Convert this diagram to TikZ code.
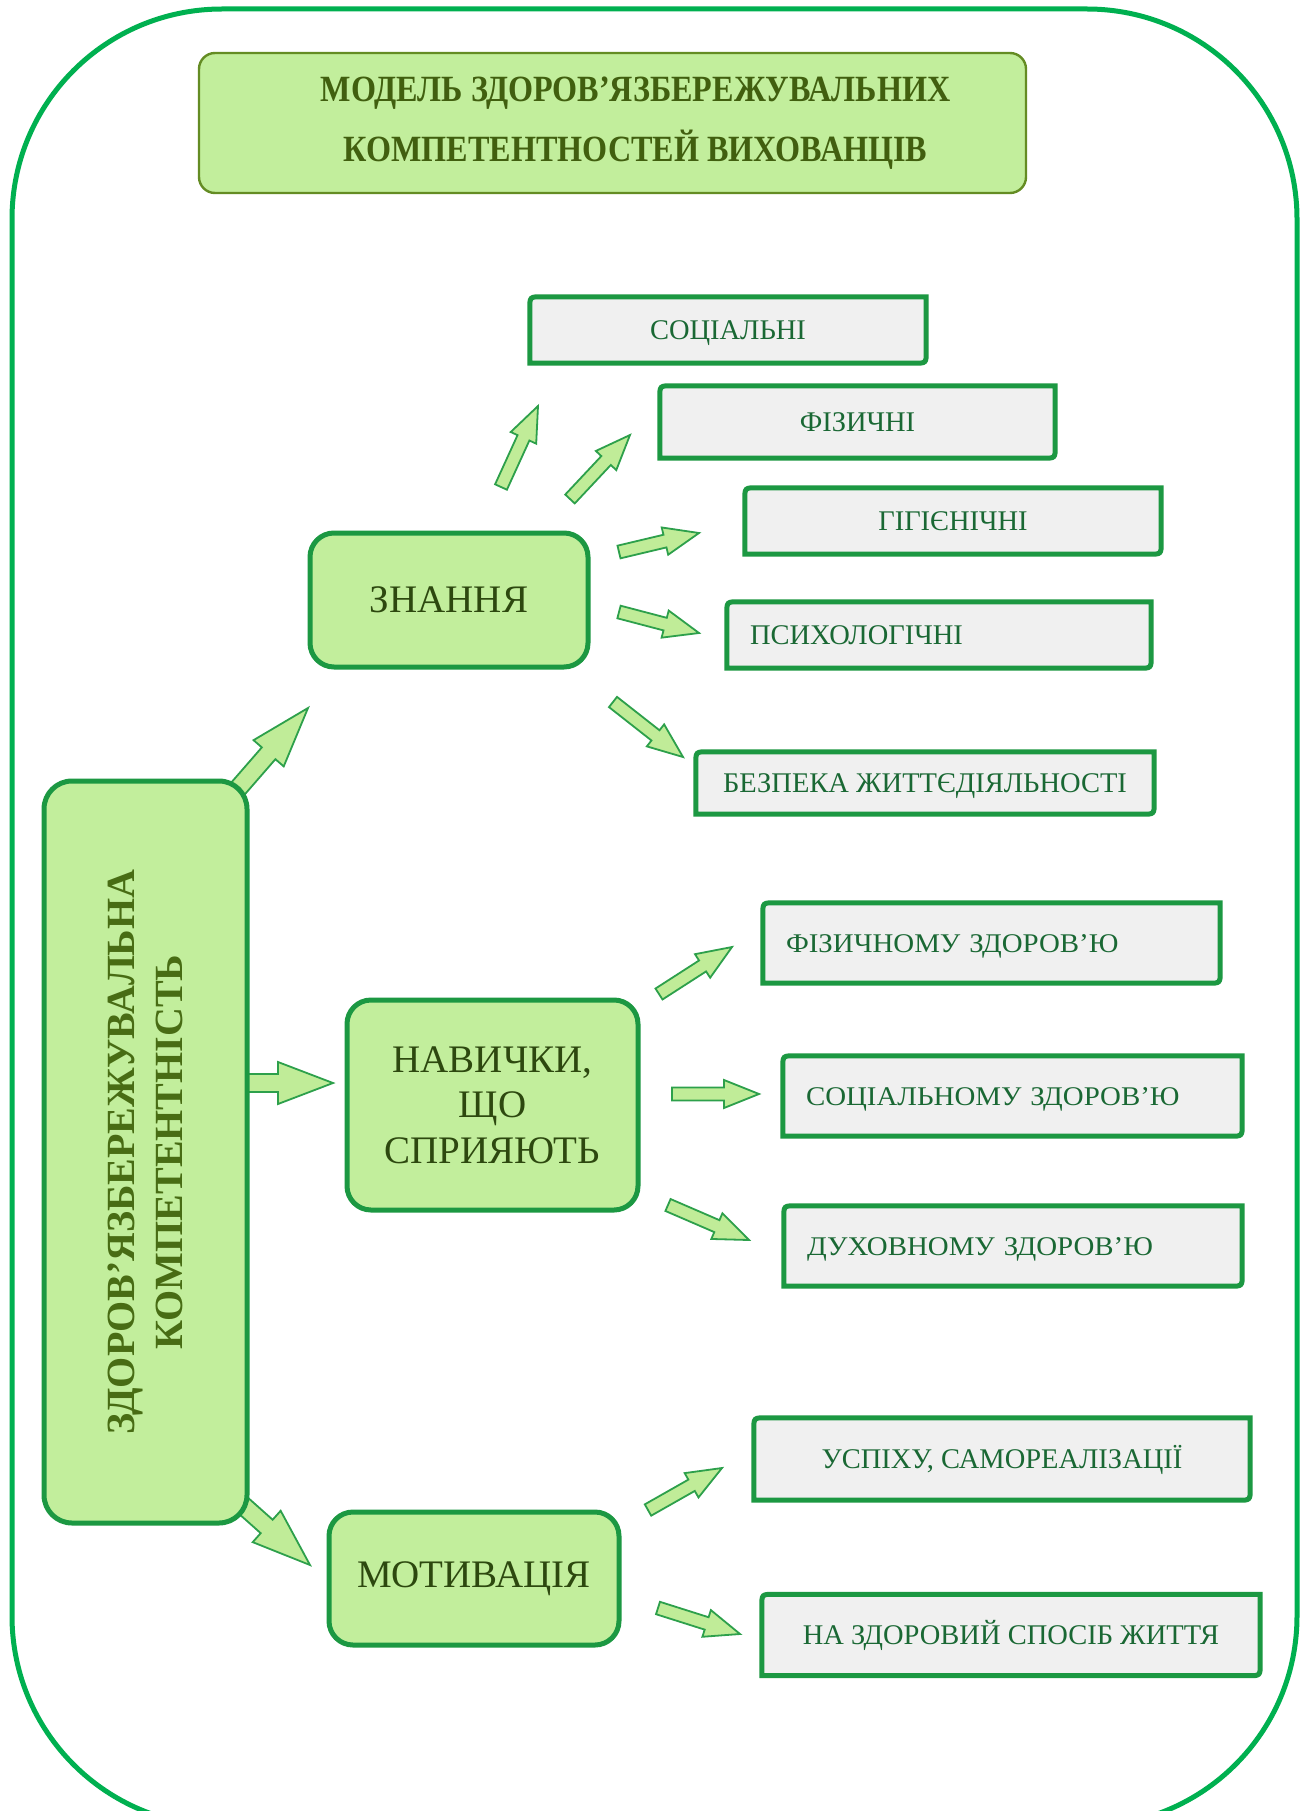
\documentclass[tikz,border=0pt]{standalone}
\usepackage{fontspec}
\setmainfont{Liberation Serif}
\newfontfamily\titlefont[FakeStretch=0.87]{Liberation Serif}
\newfontfamily\widefont[FakeStretch=1.07]{Liberation Serif}
\usetikzlibrary{calc}
\pgfdeclarelayer{back}
\pgfdeclarelayer{shapes}
\pgfsetlayers{back,shapes,main}

\definecolor{framegreen}{RGB}{0,176,80}
\definecolor{boxgreen}{RGB}{194,238,156}
\definecolor{boxborder}{RGB}{28,152,66}
\definecolor{titleborder}{RGB}{100,140,35}
\definecolor{titletext}{RGB}{65,95,15}
\definecolor{maintext}{RGB}{72,108,20}
\definecolor{midtext}{RGB}{45,72,15}
\definecolor{leaftext}{RGB}{26,104,52}
\definecolor{leafgrey}{RGB}{240,240,240}
\definecolor{arrowfill}{RGB}{192,236,152}
\definecolor{arrowline}{RGB}{45,160,75}

\newcommand\blockarrow[5]{%
  \draw[barrow] ($(#1)!#3!90:(#2)$) -- ($(#2)!#5!(#1)!#3!270:(#1)$) -- ($(#2)!#5!(#1)!#4!270:(#1)$) -- (#2) -- ($(#2)!#5!(#1)!#4!90:(#1)$) -- ($(#2)!#5!(#1)!#3!90:(#1)$) -- ($(#1)!#3!270:(#2)$) -- cycle;}
\newcommand\leafshape[1]{%
  \draw[leafline] (#1.south west) -- ($(#1.north west)+(0,12)$) .. controls (#1.north west) .. ($(#1.north west)+(12,0)$) -- (#1.north east) -- ($(#1.south east)+(0,-12)$) .. controls (#1.south east) .. ($(#1.south east)+(-12,0)$) -- cycle;}

\begin{document}
\begin{tikzpicture}[x=1pt,y=-1pt,
  frame/.style={draw=framegreen,line width=5pt,rounded corners=210pt},
  titlebox/.style={draw=titleborder,fill=boxgreen,line width=2.4pt,rounded corners=16pt,inner sep=0pt,align=center,text=titletext,font=\titlefont\bfseries\fontsize{37}{60}\selectfont},
  mainbox/.style={draw=boxborder,fill=boxgreen,line width=5pt,rounded corners=28pt,inner sep=0pt,align=center,text=maintext,font=\bfseries\fontsize{40}{48}\selectfont},
  midbox/.style={draw=boxborder,fill=boxgreen,line width=5pt,rounded corners=24pt,inner sep=0pt,align=center,text=midtext,font=\fontsize{39}{45.5}\selectfont},
  leaf/.style={inner sep=0pt,text=leaftext,font=\fontsize{28.5}{33}\selectfont,text height=19pt,text depth=0pt},
  leafleft/.style={leaf,inner xsep=23pt,align=left},
  widetext/.style={font=\widefont\fontsize{27}{32}\selectfont},
  leafline/.style={draw=boxborder,fill=leafgrey,line width=5pt},
  barrow/.style={draw=arrowline,fill=arrowfill,line width=1.8pt,line join=miter}
]
\begin{pgfonlayer}{back}
  \fill[white] (0,0) rectangle (1309,1811);
\end{pgfonlayer}
\useasboundingbox (0,0) rectangle (1309,1811);
\begin{scope}
  \clip (0,0) rectangle (1309,1811);
  \draw[frame] (12,9) rectangle (1297,1826);
\end{scope}

% arrow end points
\coordinate (a1t) at (228,800);  \coordinate (a1h) at (308,708);
\coordinate (a2t) at (238,1083); \coordinate (a2h) at (333,1083);
\coordinate (a3t) at (228,1492); \coordinate (a3h) at (310,1565);
\coordinate (b1t) at (501,487);  \coordinate (b1h) at (538,406);
\coordinate (b2t) at (570,499);  \coordinate (b2h) at (630,435);
\coordinate (b3t) at (619,552);  \coordinate (b3h) at (699,533);
\coordinate (b4t) at (619,612);  \coordinate (b4h) at (699,633);
\coordinate (b5t) at (613,702);  \coordinate (b5h) at (683,757);
\coordinate (c1t) at (659,994);  \coordinate (c1h) at (732,947);
\coordinate (c2t) at (672,1094); \coordinate (c2h) at (759,1094);
\coordinate (c3t) at (668,1205); \coordinate (c3h) at (749,1240);
\coordinate (d1t) at (648,1510); \coordinate (d1h) at (722,1468);
\coordinate (d2t) at (658,1608); \coordinate (d2h) at (740,1634);

\blockarrow{a1t}{a1h}{9pt}{20pt}{60pt}
\blockarrow{a2t}{a2h}{9pt}{21pt}{55pt}
\blockarrow{a3t}{a3h}{9pt}{21pt}{58pt}
\foreach \s in {b1,b2,b3,b4,b5,c1,c2,c3,d1,d2}{\blockarrow{\s t}{\s h}{6.5pt}{14pt}{35pt}}

% title
\node[titlebox,minimum width=827,minimum height=140] (title) at (612.5,123)
  {\hspace*{46pt}МОДЕЛЬ ЗДОРОВ’ЯЗБЕРЕЖУВАЛЬНИХ\\\hspace*{46pt}КОМПЕТЕНТНОСТЕЙ ВИХОВАНЦІВ};

% main box
\node[mainbox,rotate=90,minimum width=742,minimum height=203] (main) at (145.5,1152)
  {ЗДОРОВ’ЯЗБЕРЕЖУВАЛЬНА\\КОМПЕТЕНТНІСТЬ};

% middle boxes
\node[midbox,minimum width=278,minimum height=134] (znan) at (449,600) {ЗНАННЯ};
\node[midbox,minimum width=291,minimum height=210] (navy) at (492.5,1105) {НАВИЧКИ,\\ЩО\\СПРИЯЮТЬ};
\node[midbox,minimum width=290,minimum height=133] (moty) at (474,1578.5) {МОТИВАЦІЯ};

% leaves
\node[leaf,minimum width=396,minimum height=66] (s1) at (728,330) {СОЦІАЛЬНІ};
\node[leaf,minimum width=395,minimum height=72] (s2) at (857.5,422) {ФІЗИЧНІ};
\node[leaf,minimum width=416,minimum height=66] (s3) at (953,521) {ГІГІЄНІЧНІ};
\node[leafleft,text width=378,minimum height=66] (s4) at (939,635) {ПСИХОЛОГІЧНІ};
\node[leaf,minimum width=458,minimum height=62] (s5) at (925,783) {БЕЗПЕКА ЖИТТЄДІЯЛЬНОСТІ};
\node[leafleft,widetext,text width=411,minimum height=80] (n1) at (991.5,943) {ФІЗИЧНОМУ ЗДОРОВ’Ю};
\node[leafleft,widetext,text width=413,minimum height=80] (n2) at (1012.5,1096) {СОЦІАЛЬНОМУ ЗДОРОВ’Ю};
\node[leafleft,widetext,text width=412,minimum height=80] (n3) at (1013,1246) {ДУХОВНОМУ ЗДОРОВ’Ю};
\node[leaf,minimum width=496,minimum height=82] (m1) at (1002,1459) {УСПІХУ, САМОРЕАЛІЗАЦІЇ};
\node[leaf,minimum width=498,minimum height=81] (m2) at (1011,1635) {НА ЗДОРОВИЙ СПОСІБ ЖИТТЯ};

\begin{pgfonlayer}{shapes}
  \foreach \n in {s1,s2,s3,s4,s5,n1,n2,n3,m1,m2}{\leafshape{\n}}
\end{pgfonlayer}
\end{tikzpicture}
\end{document}
